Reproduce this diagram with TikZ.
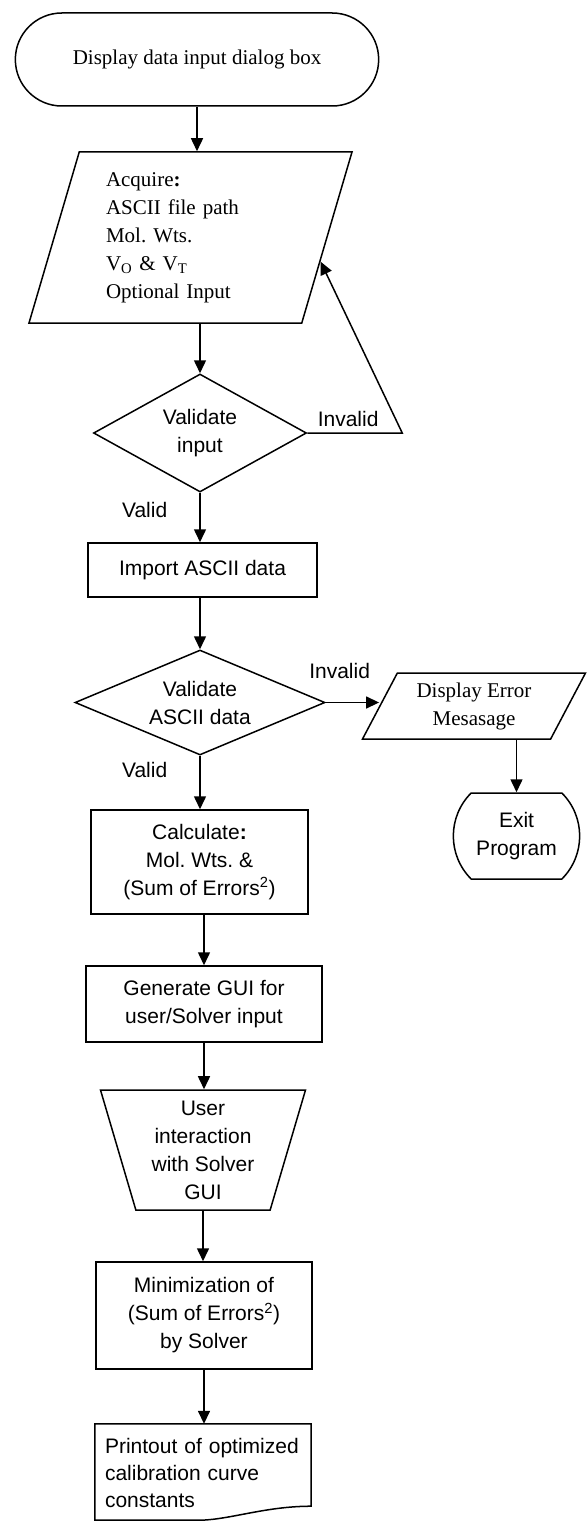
\documentclass[tikz,border=0pt]{standalone}
\usepackage{fontspec}
\setmainfont{Liberation Serif}
\setsansfont{Liberation Sans}
\usetikzlibrary{shapes.geometric, shapes.misc, arrows.meta, calc}
\frenchspacing

\begin{document}
\begin{tikzpicture}[x=1pt, y=1pt,
  box/.style={draw, line width=1.5pt, align=center,
    font=\sffamily\fontsize{21}{28}\selectfont},
  serif/.style={font=\rmfamily\fontsize{21}{28}\selectfont},
  proc/.style={box, rectangle, inner sep=2pt},
  decide/.style={box, diamond, inner sep=1pt},
  io/.style={box, trapezium, trapezium stretches body, inner sep=2pt},
  term/.style={box, rounded rectangle},
  flow/.style={-{Triangle[length=13pt, width=12pt]}, line width=1.5pt},
  lbl/.style={font=\sffamily\fontsize{21}{25}\selectfont, inner sep=2pt}]

  % page of the original figure
  \useasboundingbox (0,0) rectangle (586,-1522);

  % main column
  \node[term, serif, minimum width=370pt, minimum height=93pt] (start) at (197,-59.5)
    {Display data input dialog box};
  \node[io, serif, trapezium left angle=69.5, trapezium right angle=110.5,
    minimum width=323pt, minimum height=171pt, text width=169pt, align=left] (acq) at (190.5,-237.5)
    {Acquire\textbf{:}\\ASCII file path\\Mol. Wts.\\V\textsubscript{O} \& V\textsubscript{T}\\Optional Input};
  \node[decide, aspect=1.8, minimum width=213pt, minimum height=118pt] (valin) at (200,-433)
    {Validate\\input};
  \node[proc, minimum width=229pt, minimum height=54pt] (imp) at (202.5,-570)
    {Import ASCII data};
  \node[decide, aspect=2.38, minimum width=250pt, minimum height=105pt] (valascii) at (200,-702.5)
    {Validate\\ASCII data};
  \node[proc, minimum width=217pt, minimum height=104pt] (calc) at (199.5,-862)
    {Calculate\textbf{:}\\Mol. Wts. \&\\(Sum of Errors\textsuperscript{2})};
  \node[proc, minimum width=236pt, minimum height=76pt] (gen) at (204,-1004)
    {Generate GUI for\\user/Solver input};
  \node[io, trapezium left angle=109, trapezium right angle=109,
    minimum width=205pt, minimum height=120pt] (user) at (203,-1150)
    {User\\interaction\\with Solver\\GUI};
  \node[proc, minimum width=216pt, minimum height=107pt] (mini) at (204,-1315.5)
    {Minimization of\\(Sum of Errors\textsuperscript{2})\\by Solver};
  \node[font=\sffamily\fontsize{21}{27}\selectfont, inner xsep=10pt, text width=196pt, align=left,
    minimum width=216pt, minimum height=97pt] (print) at (203,-1472.5)
    {Printout of optimized\\calibration curve\\constants};
  % document outline with wavy bottom
  \draw[line width=1.5pt] (print.north west) -- (print.north east) -- ([yshift=15pt]print.south east)
    .. controls ([xshift=-45pt,yshift=15pt]print.south east) and ([xshift=-80pt,yshift=2pt]print.south east)
    .. ([xshift=-110pt,yshift=1pt]print.south east) -- ([yshift=1pt]print.south west) -- cycle;

  % error branch
  \node[io, serif, trapezium left angle=55.7, trapezium right angle=124.3,
    minimum width=223pt, minimum height=66pt] (err) at (474,-706)
    {Display Error\\Mesasage};
  \node[term, rounded rectangle arc length=90, minimum width=133pt, minimum height=86pt] (exit) at (516.5,-836)
    {Exit\\Program};

  % connectors
  \draw[flow] (start.south) -- (start.south |- acq.north);
  \draw[flow] (valin.north |- acq.south) -- (valin.north);
  \draw[flow] (valin.east) -- ++(95,0) node[lbl, above=4pt, pos=0.43] {Invalid}
    -- ($(acq.top right corner)!0.64!(acq.bottom right corner)$);
  \draw[flow] (valin.south) -- (valin.south |- imp.north) node[lbl, pos=0.35, left=30pt] {Valid};
  \draw[flow] (valascii.north |- imp.south) -- (valascii.north);
  \draw[flow] (valascii.south) -- (valascii.south |- calc.north) node[lbl, pos=0.27, left=30pt] {Valid};
  \draw[flow] (valascii.east) -- (valascii.east -| err.west) node[lbl, pos=0.26, above=21pt] {Invalid};
  \draw[flow] (exit.north |- err.south) -- (exit.north);
  \draw[flow] (gen.north |- calc.south) -- (gen.north);
  \draw[flow] (gen.south) -- (gen.south |- user.north);
  \draw[flow] (user.south) -- (user.south |- mini.north);
  \draw[flow] (mini.south) -- (mini.south |- print.north);

\end{tikzpicture}
\end{document}
